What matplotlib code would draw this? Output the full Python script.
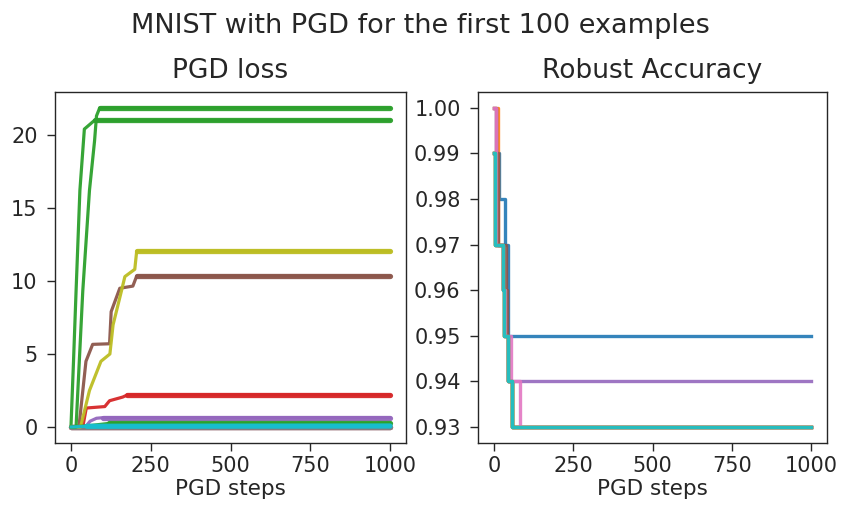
import matplotlib
matplotlib.use("Agg")
import matplotlib.pyplot as plt

# ---------------- data: PGD loss (left) ----------------
loss_green_a_steps = [0, 8, 16, 28, 42, 58, 74, 1000]
loss_green_a = [0.0, 4.5, 9.3, 16.2, 20.4, 20.7, 21.0, 21.0]

loss_green_b_steps = [0, 16, 37, 58, 74, 80, 90, 1000]
loss_green_b = [0.0, 0.0, 9.3, 16.2, 19.6, 21.3, 21.85, 21.85]

loss_olive_steps = [0, 30, 58, 94, 122, 132, 158, 169, 200, 206, 1000]
loss_olive = [0.0, 0.0, 2.5, 4.5, 5.0, 7.0, 9.3, 10.3, 10.8, 12.05, 12.05]

loss_brown_steps = [0, 25, 47, 68, 121, 126, 153, 194, 206, 1000]
loss_brown = [0.0, 0.0, 4.5, 5.66, 5.7, 7.9, 9.5, 9.65, 10.34, 10.34]

loss_red_steps = [0, 37, 48, 106, 121, 162, 177, 1000]
loss_red = [0.0, 0.0, 1.3, 1.4, 1.8, 2.05, 2.2, 2.2]

loss_purple_steps = [0, 45, 60, 80, 100, 1000]
loss_purple = [0.0, 0.0, 0.4, 0.6, 0.64, 0.64]

loss_green_low_steps = [0, 60, 120, 1000]
loss_green_low = [0.0, 0.1, 0.25, 0.25]

loss_zero_steps = [0, 1000]
loss_zero = [0.0, 0.0]

loss_cyan_steps = [0, 50, 1000]
loss_cyan = [0.0, 0.05, 0.07]

# ---------------- data: Robust accuracy (right) ----------------
acc_c0_steps = [0, 17, 35, 43, 1000]
acc_c0 = [0.99, 0.98, 0.97, 0.95, 0.95]
acc_c1_steps = [0, 12, 14, 30, 38, 45, 56, 1000]
acc_c1 = [1.00, 0.98, 0.97, 0.96, 0.95, 0.94, 0.93, 0.93]
acc_c2_steps = [0, 3, 28, 33, 43, 56, 1000]
acc_c2 = [0.99, 0.97, 0.96, 0.95, 0.94, 0.93, 0.93]
acc_c3_steps = [0, 3, 28, 33, 43, 56, 1000]
acc_c3 = [0.99, 0.97, 0.96, 0.95, 0.94, 0.93, 0.93]
acc_c4_steps = [0, 7, 28, 36, 45, 1000]
acc_c4 = [1.00, 0.97, 0.96, 0.95, 0.94, 0.94]
acc_c5_steps = [0, 6, 14, 37, 40, 44, 56, 1000]
acc_c5 = [1.00, 0.99, 0.97, 0.96, 0.95, 0.94, 0.93, 0.93]
acc_c6_steps = [0, 6, 28, 36, 53, 83, 1000]
acc_c6 = [1.00, 0.97, 0.96, 0.95, 0.94, 0.93, 0.93]
acc_c7_steps = [0, 3, 28, 33, 43, 56, 1000]
acc_c7 = [0.99, 0.97, 0.96, 0.95, 0.94, 0.93, 0.93]
acc_c8_steps = [0, 3, 28, 33, 43, 56, 1000]
acc_c8 = [0.99, 0.97, 0.96, 0.95, 0.94, 0.93, 0.93]
acc_c9_steps = [0, 3, 30, 33, 43, 56, 1000]
acc_c9 = [0.99, 0.97, 0.96, 0.95, 0.94, 0.93, 0.93]

suptitle = "MNIST with PGD for the first 100 examples"
left_title = "PGD loss"
right_title = "Robust Accuracy"
xlabel = "PGD steps"
xticks = [0, 250, 500, 750, 1000]
left_yticks = [0, 5, 10, 15, 20]
right_yticks = [0.93, 0.94, 0.95, 0.96, 0.97, 0.98, 0.99, 1.00]
right_yticklabels = ["0.93", "0.94", "0.95", "0.96", "0.97", "0.98", "0.99", "1.00"]

# ---------------- figure ----------------
text_color = "#262626"
plt.rcParams["text.color"] = text_color
plt.rcParams["xtick.color"] = text_color
plt.rcParams["ytick.color"] = text_color
plt.rcParams["axes.labelcolor"] = text_color

fig = plt.figure(figsize=(8.41, 5.08), dpi=100)
ax1 = fig.add_axes([0.0654, 0.128, 0.4174, 0.691])
ax2 = fig.add_axes([0.5684, 0.128, 0.415, 0.691])

left_series = [
    (loss_zero_steps, loss_zero, "C0"),
    (loss_zero_steps, loss_zero, "C1"),
    (loss_green_a_steps, loss_green_a, "C2"),
    (loss_red_steps, loss_red, "C3"),
    (loss_purple_steps, loss_purple, "C4"),
    (loss_brown_steps, loss_brown, "C5"),
    (loss_zero_steps, loss_zero, "C6"),
    (loss_zero_steps, loss_zero, "C7"),
    (loss_olive_steps, loss_olive, "C8"),
    (loss_green_b_steps, loss_green_b, "C2"),
    (loss_green_low_steps, loss_green_low, "C2"),
    (loss_cyan_steps, loss_cyan, "C9"),
]
for xs, ys, c in left_series:
    ax1.plot(xs, ys, color=c, lw=2.3, solid_capstyle="round", alpha=0.95)
    ax1.plot(xs[-2:], ys[-2:], color=c, lw=3.8, solid_capstyle="round", alpha=0.95)

right_series = [
    (acc_c0_steps, acc_c0, "C0"),
    (acc_c1_steps, acc_c1, "C1"),
    (acc_c2_steps, acc_c2, "C2"),
    (acc_c3_steps, acc_c3, "C3"),
    (acc_c4_steps, acc_c4, "C4"),
    (acc_c5_steps, acc_c5, "C5"),
    (acc_c6_steps, acc_c6, "C6"),
    (acc_c7_steps, acc_c7, "C7"),
    (acc_c8_steps, acc_c8, "C8"),
    (acc_c9_steps, acc_c9, "C9"),
]
for xs, ys, c in right_series:
    ax2.plot(xs, ys, color=c, lw=2.4, drawstyle="steps-post", alpha=0.9)

for ax, title, yt in [(ax1, left_title, left_yticks), (ax2, right_title, right_yticks)]:
    ax.set_title(title, fontsize=19, pad=10)
    ax.set_xlabel(xlabel, fontsize=15.5, labelpad=2)
    ax.set_xticks(xticks)
    ax.set_yticks(yt)
    ax.tick_params(axis="both", labelsize=15, length=5.5, width=1.0)
    ax.tick_params(axis="x", pad=4)
    ax.tick_params(axis="y", pad=7)
    for s in ax.spines.values():
        s.set_linewidth(1.0)
        s.set_color(text_color)

ax2.set_yticklabels(right_yticklabels)

fig.suptitle(suptitle, fontsize=19.5, y=0.975)

fig.savefig("out.png", dpi=100)
